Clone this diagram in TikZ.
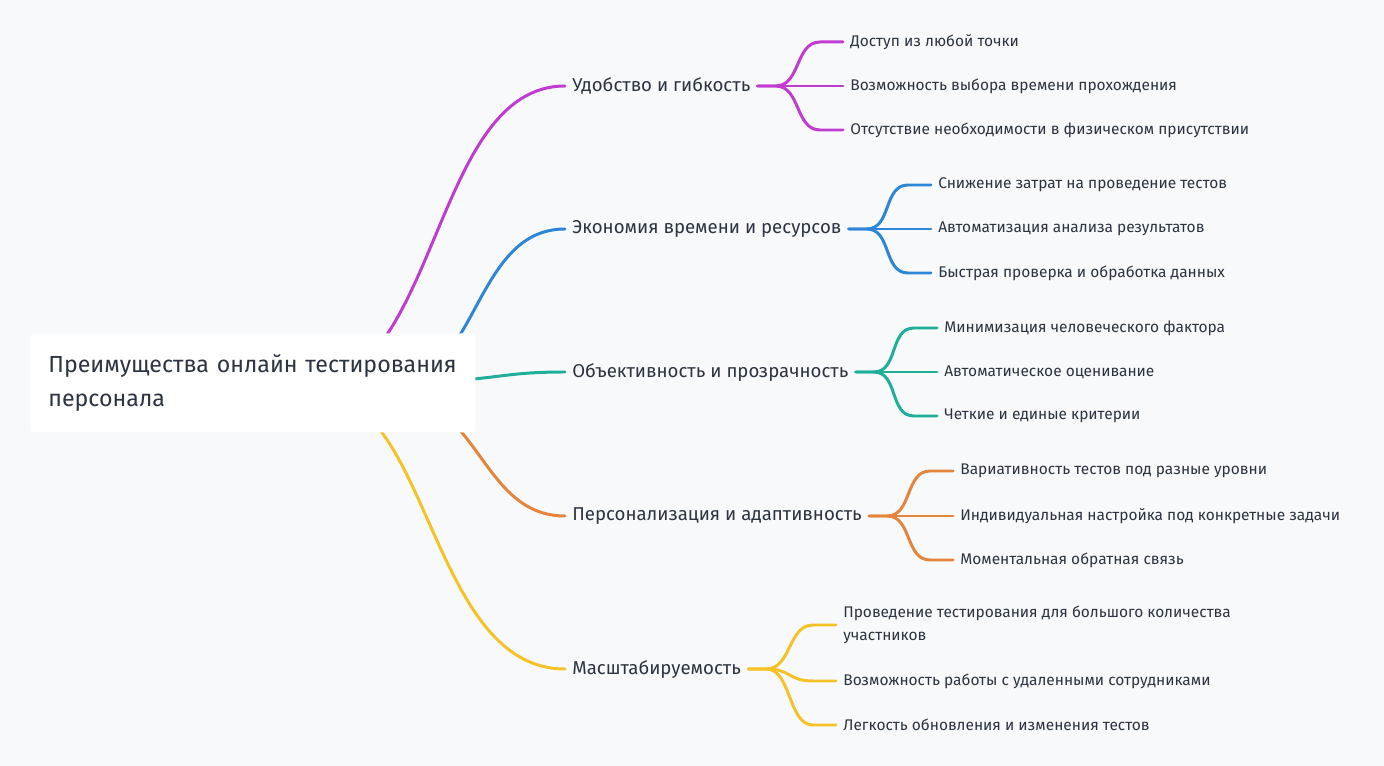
\documentclass[tikz,border=0pt]{standalone}
\usepackage{fontspec}
\setmainfont{Fira Sans}
\usetikzlibrary{positioning}
\definecolor{bgcol}{HTML}{F7F9FA}
\definecolor{txtcol}{HTML}{2B3440}
\definecolor{purcol}{HTML}{C03BD0}
\definecolor{blucol}{HTML}{2E86D6}
\definecolor{tealcol}{HTML}{1FAE9A}
\definecolor{orgcol}{HTML}{E5843D}
\definecolor{yelcol}{HTML}{F5C228}
\tikzset{
  branch/.style={anchor=west, inner sep=0pt, text=txtcol, font=\fontsize{10.6}{13}\selectfont},
  leaf/.style={anchor=west, inner sep=0pt, text=txtcol, align=left, font=\fontsize{8.8}{13}\selectfont},
  link/.style={line width=1.7pt, line cap=round},
}
\begin{document}
\begin{tikzpicture}[x=0.02cm, y=-0.02cm]
% background
\fill[bgcol] (0,0) rectangle (1384,766);

% main branches
\node[branch] (pur) at (572,86) {Удобство и гибкость};
\node[branch] (blu) at (572,229) {Экономия времени и ресурсов};
\node[branch] (teal) at (572,372) {Объективность и прозрачность};
\node[branch] (org) at (572,516) {Персонализация и адаптивность};
\node[branch] (yel) at (572,669) {Масштабируемость};

% leaves
\node[leaf] (pur1) at (850,42) {Доступ из любой точки};
\node[leaf] (pur2) at (850,86) {Возможность выбора времени прохождения};
\node[leaf] (pur3) at (850,130) {Отсутствие необходимости в физическом присутствии};
\node[leaf] (blu1) at (938,185) {Снижение затрат на проведение тестов};
\node[leaf] (blu2) at (938,229) {Автоматизация анализа результатов};
\node[leaf] (blu3) at (938,273) {Быстрая проверка и обработка данных};
\node[leaf] (teal1) at (944,328) {Минимизация человеческого фактора};
\node[leaf] (teal2) at (944,372) {Автоматическое оценивание};
\node[leaf] (teal3) at (944,416) {Четкие и единые критерии};
\node[leaf] (org1) at (960,471) {Вариативность тестов под разные уровни};
\node[leaf] (org2) at (960,516) {Индивидуальная настройка под конкретные задачи};
\node[leaf] (org3) at (960,560) {Моментальная обратная связь};
\node[leaf] (yel1) at (843,625) {Проведение тестирования для большого количества\\участников};
\node[leaf] (yel2) at (843,681) {Возможность работы с удаленными сотрудниками};
\node[leaf] (yel3) at (843,725) {Легкость обновления и изменения тестов};

% links from the root
\coordinate (rp) at (300,390);
\coordinate (rb) at (380,390);
\coordinate (rt) at (420,382);
\coordinate (ro) at (390,395);
\coordinate (ry) at (320,395);
\draw[link, purcol] (rp) .. controls (440,390) and (430,86) .. ([xshift=-0.14cm]pur.west);
\draw[link, blucol] (rb) .. controls (480,390) and (470,229) .. ([xshift=-0.14cm]blu.west);
\draw[link, tealcol] (rt) .. controls (500,380) and (500,372) .. ([xshift=-0.14cm]teal.west);
\draw[link, orgcol] (ro) .. controls (480,395) and (480,516) .. ([xshift=-0.14cm]org.west);
\draw[link, yelcol] (ry) .. controls (430,395) and (430,669) .. ([xshift=-0.14cm]yel.west);

% links to the leaves
\foreach \b/\c in {pur/purcol, blu/blucol, teal/tealcol, org/orgcol, yel/yelcol}
  \foreach \n in {1,2,3}
    \draw[link, \c] ([xshift=0.14cm]\b.east) -- ++(18,0) .. controls +(25,0) and +(-25,0) .. ([xshift=-0.6cm]\b\n.west) -- ([xshift=-0.14cm]\b\n.west);

% root
\node[anchor=north west, fill=white, rounded corners=2pt, minimum width=8.9cm, minimum height=1.98cm,
  text width=8.18cm, inner xsep=0.36cm, align=left, text=txtcol,
  font=\fontsize{13.2}{19}\selectfont] (root) at (30,333)
  {Преимущества онлайн тестирования\\персонала};
\end{tikzpicture}
\end{document}
